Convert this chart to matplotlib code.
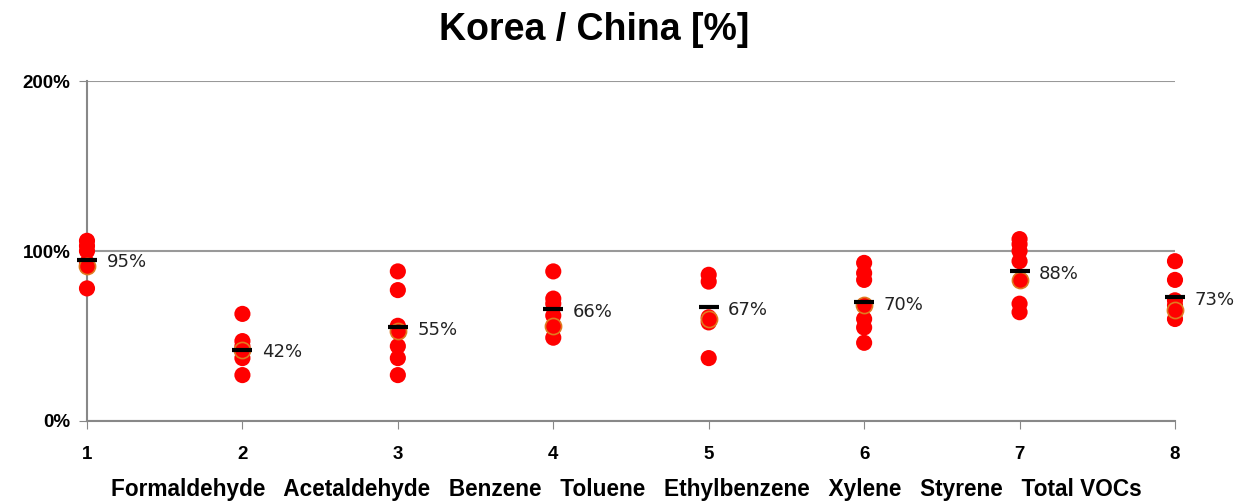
import matplotlib.pyplot as plt
from matplotlib.ticker import FuncFormatter

# Korea / China ratio per compound (%)
compounds = ['Formaldehyde', 'Acetaldehyde', 'Benzene', 'Toluene',
             'Ethylbenzene', 'Xylene', 'Styrene', 'Total VOCs']
ratios = [
    [106, 103, 100, 93, 78],
    [63, 47, 44, 41, 37, 27],
    [88, 77, 56, 44, 37, 27],
    [88, 72, 69, 62, 49],
    [86, 82, 61, 58, 37],
    [93, 87, 83, 60, 55, 46],
    [107, 104, 100, 94, 69, 64],
    [94, 83, 71, 68, 60],
]
# points drawn with an orange rim (second series)
ratios_alt = [91, 42, 53, 56, 60, 68, 83, 65]
means = [95, 42, 55, 66, 67, 70, 88, 73]

narrow = ['Liberation Sans', 'DejaVu Sans']

fig = plt.figure(figsize=(12.48, 5.01), dpi=100)
ax = fig.add_axes([0.0697, 0.1597, 0.8718, 0.6786])

for i, vals in enumerate(ratios):
    x = i + 1
    ax.scatter([x] * len(vals), [v / 100 for v in vals], s=135, color='#ff0000',
               edgecolors='none', zorder=3, clip_on=False)
    ax.scatter([x], [ratios_alt[i] / 100], s=135, color='#ff0000',
               edgecolors='#e07a20', linewidths=1.2, zorder=3, clip_on=False)
    ax.plot([x], [means[i] / 100], marker='_', markersize=15, mew=3,
            color='black', zorder=4, clip_on=False)
    ax.annotate(f'{means[i]}%', (x, means[i] / 100), xytext=(14, -2),
                textcoords='offset points', fontsize=13, va='center',
                family=['DejaVu Sans'], color='#222222')

ax.set_xlim(1, 8)
ax.set_ylim(0, 2)
ax.set_xticks(range(1, 9))
ax.set_yticks([0, 1, 2])
ax.yaxis.set_major_formatter(FuncFormatter(lambda v, p: f'{v:.0%}'))

for s in ['top', 'right']:
    ax.spines[s].set_visible(False)
for s in ['left', 'bottom']:
    ax.spines[s].set_color('#888888')
    ax.spines[s].set_linewidth(1.5)
ax.grid(axis='y', color='#999999', linewidth=1.5)
ax.set_axisbelow(True)
ax.tick_params(axis='x', length=6, color='#888888', pad=12)
ax.tick_params(axis='y', length=6, color='#888888', pad=6)
for lab in ax.get_xticklabels() + ax.get_yticklabels():
    lab.set_fontweight('bold')
    lab.set_fontsize(13.5)
    lab.set_family(narrow)

fig.text(0.476, 0.94, 'Korea / China [%]', ha='center', va='center',
         fontsize=27, fontweight='bold', family=narrow)
fig.text(0.502, 0.022, '   '.join(compounds), ha='center', va='center',
         fontsize=16.3, fontweight='bold', family=narrow)

fig.savefig('out.png', dpi=100)
